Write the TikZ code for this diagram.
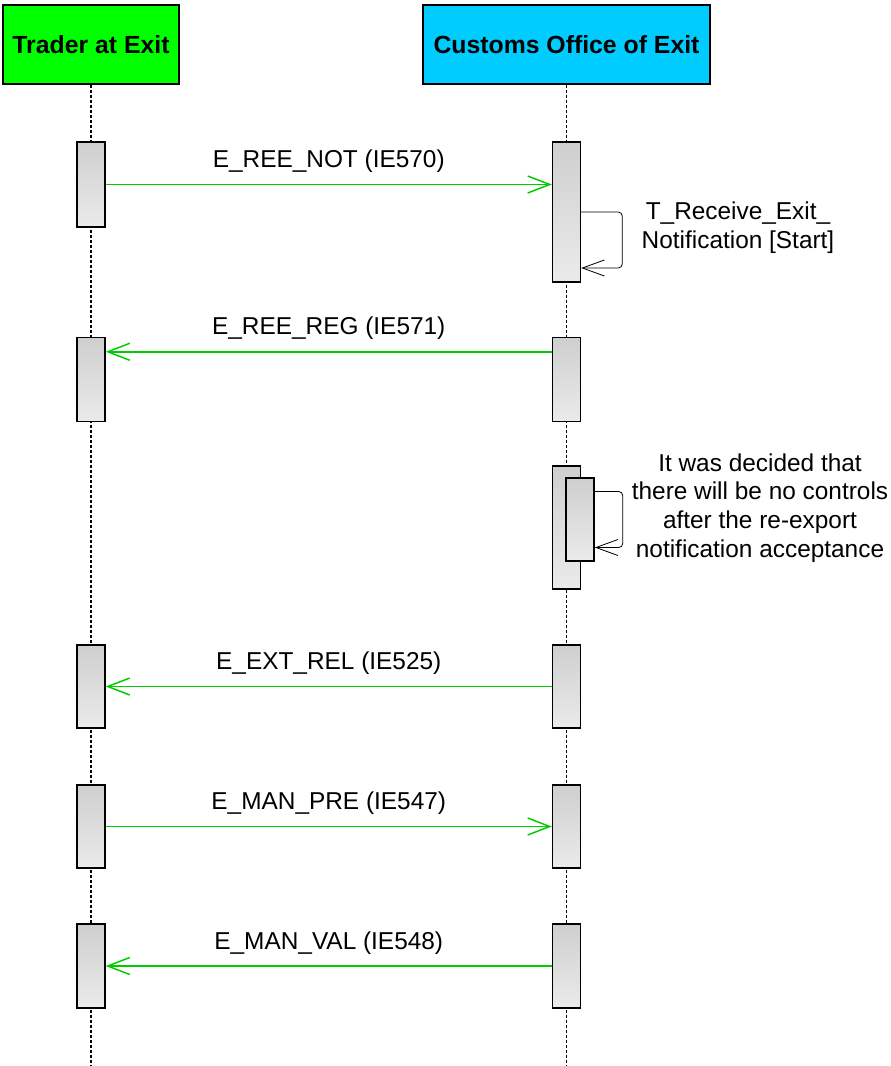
\documentclass[tikz,border=0pt]{standalone}
\usepackage{fontspec}
\setmainfont{Liberation Sans}
\usetikzlibrary{arrows.meta}
\definecolor{tradergreen}{RGB}{0,255,0}
\definecolor{customscyan}{RGB}{0,204,255}
\definecolor{msggreen}{RGB}{0,204,0}

\begin{document}
\begin{tikzpicture}[x=0.75pt, y=-0.75pt, % coordinates in pixels, y downwards
    font=\fontsize{18.3}{21.5}\selectfont,
    actor/.style={draw, line width=0.8pt, minimum height=59.25pt, inner sep=0pt,
        font=\fontsize{18.6}{21.5}\selectfont\bfseries},
    bar/.style={draw, line width=1.1pt, top color=black!19, bottom color=black!8,
        minimum width=21pt, inner sep=0pt},
    lifeline/.style={line width=1pt, dash pattern=on 2.25pt off 1.5pt},
    msg/.style={draw=msggreen, line width=1.1pt, -{Straight Barb[length=16.5pt, width=12.75pt]}},
    selfmsg/.style={line width=0.6pt, rounded corners=3pt, -{Straight Barb[length=16.5pt, width=12pt]}},
    lbl/.style={anchor=base, yshift=12.75pt}]
    \useasboundingbox (0,0) rectangle (890,1066);

    % Actors
    \node[actor, fill=tradergreen, minimum width=132pt] (trader) at (91,44.5) {Trader at Exit};
    \node[actor, fill=customscyan, minimum width=215.25pt] (customs) at (566.5,44.5) {Customs Office of Exit};

    % Lifelines
    \coordinate (traderend) at (91,1066);
    \coordinate (customsend) at (566.5,1066);
    \draw[lifeline] (trader.south) -- (traderend);
    \draw[lifeline] (customs.south) -- (customsend);

    % Activation bars
    \node[bar, minimum height=63.75pt] (t1) at (91,184.5) {};
    \node[bar, minimum height=105pt] (c1) at (566.5,212) {};
    \node[bar, minimum height=63pt] (t2) at (91,379.5) {};
    \node[bar, minimum height=63pt] (c2) at (566.5,379.5) {};
    \node[bar, minimum height=92.25pt] (c3) at (566.5,527.5) {};
    \node[bar, minimum height=62.25pt] (c3b) at (580,519.5) {};
    \node[bar, minimum height=62.25pt] (t4) at (91,686.5) {};
    \node[bar, minimum height=62.25pt] (c4) at (566.5,686.5) {};
    \node[bar, minimum height=62.25pt] (t5) at (91,826.5) {};
    \node[bar, minimum height=62.25pt] (c5) at (566.5,826.5) {};
    \node[bar, minimum height=63pt] (t6) at (91,966) {};
    \node[bar, minimum height=63pt] (c6) at (566.5,966) {};

    % Messages
    \draw[msg] (t1.east) -- (t1.east -| c1.west) node[midway, lbl] {E\_REE\_NOT (IE570)};
    \draw[msg] ([yshift=-11.25pt]c2.north west) -- ([yshift=-11.25pt]t2.north east) node[midway, lbl] {E\_REE\_REG (IE571)};
    \draw[msg] (c4.west) -- (t4.east) node[midway, lbl] {E\_EXT\_REL (IE525)};
    \draw[msg] (t5.east) -- (c5.west) node[midway, lbl] {E\_MAN\_PRE (IE547)};
    \draw[msg] (c6.west) -- (t6.east) node[midway, lbl] {E\_MAN\_VAL (IE548)};

    % Self messages
    \draw[selfmsg] (c1.east) -- ++(41,0) |- ([yshift=-42pt]c1.east);
    \node[align=center, inner sep=0pt] (note1) at (738,228) {T\_Receive\_Exit\_\\Notification [Start]};
    \draw[selfmsg] ([yshift=21pt]c3b.east) -- ++(28,0) |- ([yshift=-21pt]c3b.east);
    \node[align=center, inner sep=0pt] (note2) at (760,508) {It was decided that\\there will be no controls\\after the re-export\\notification acceptance};
\end{tikzpicture}
\end{document}
